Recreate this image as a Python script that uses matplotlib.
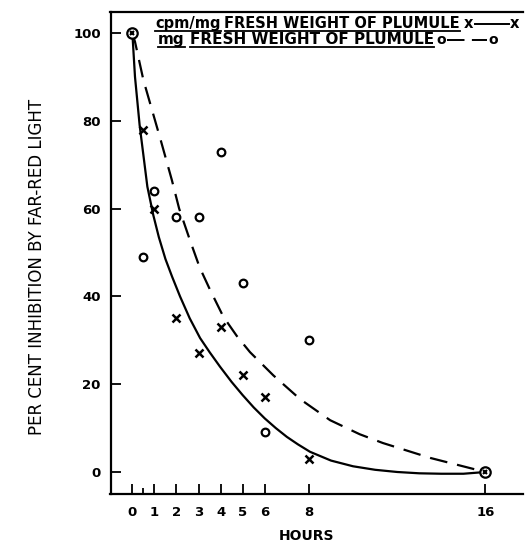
import numpy as np
import matplotlib.pyplot as plt

# measured points (hours after irradiation, % inhibition)
hours = [0.5, 1, 2, 3, 4, 5, 6, 8]
cpm_inhib = [78, 60, 35, 27, 33, 22, 17, 3]      # x markers, cpm/mg
fw_inhib = [49, 64, 58, 58, 73, 43, 9, 30]       # o markers, mg fresh weight
end_hours = [0, 16]                              # points shared by both series
end_inhib = [100, 0]

# hand drawn curves
solid_h = [0, 0.12, 0.33, 0.68, 0.95, 1.2, 1.5, 1.8, 2.16, 2.6, 3.07, 3.5, 3.97,
           4.5, 5.0, 5.5, 6.0, 6.5, 7.0, 7.5, 8.05, 9, 10, 11, 12, 13, 14, 15, 16]
solid_v = [100, 90, 79, 65, 58.5, 53.5, 48.5, 44.5, 40, 35, 30.5, 27.3, 24,
           20.5, 17.5, 14.7, 12.2, 10, 8, 6.3, 4.6, 2.6, 1.3, 0.5, 0, -0.3, -0.4, -0.4, 0]
dash_h = [0, 0.12, 0.5, 1.29, 1.79, 2.12, 2.61, 3.05, 3.52, 4.12, 4.73,
          5.33, 6.39, 7.6, 8.96, 10.3, 11.35, 13.5, 15.76, 16]
dash_v = [100, 98, 89.3, 75.5, 66.5, 60, 52.8, 46.6, 41.5, 35.4, 31,
          27.3, 22, 16.6, 11.8, 8.6, 6.6, 3.2, 0.3, 0]

x_ticks = [0, 1, 2, 3, 4, 5, 6, 8, 16]
x_labels = ['0', '1', '2', '3', '4', '5', '6', '8', '16']
y_ticks = [0, 20, 40, 60, 80, 100]

W, H = 525, 542
fig = plt.figure(figsize=(W / 100, H / 100), dpi=100)
ax = fig.add_axes([110.5 / W, 1 - 493.5 / H, (523 - 110.5) / W, (493.5 - 11.7) / H])

ax.plot(solid_h, solid_v, color='black', lw=1.6)
ax.plot(dash_h, dash_v, color='black', lw=1.6, dashes=(8, 4.5))
ax.plot(hours, cpm_inhib, ls='none', marker='x', ms=6, mew=1.8, color='black')
ax.plot(hours, fw_inhib, ls='none', marker='o', ms=5.5, mew=1.6, mfc='white', mec='black')
ax.plot(end_hours, end_inhib, ls='none', marker='o', ms=7.5, mew=1.6, mfc='white', mec='black')
ax.plot(end_hours, end_inhib, ls='none', marker='x', ms=3.2, mew=1.5, color='black')

ax.set_xlim(-0.99, 17.7)
ax.set_ylim(-4.9, 104.85)
ax.set_xticks(x_ticks)
ax.set_xticklabels(x_labels)
ax.set_xticks([0.5], minor=True)
ax.set_yticks(y_ticks)

for s in ['left', 'bottom', 'top']:
    ax.spines[s].set_linewidth(1.6)
ax.spines['right'].set_visible(False)

ax.tick_params(axis='both', which='major', direction='in', length=7, width=1.3,
               labelsize=9.5)
ax.tick_params(axis='x', which='minor', direction='in', length=4, width=1.3)
ax.tick_params(axis='y', pad=7)
ax.tick_params(axis='x', pad=9)
for lab in ax.get_xticklabels() + ax.get_yticklabels():
    lab.set_fontweight('bold')

fig.text(307 / W, 1 - 536 / H, 'HOURS', ha='center', va='center',
         fontsize=10, fontweight='bold')
fig.text(37.5 / W, 1 - 267 / H, 'PER CENT INHIBITION BY FAR-RED LIGHT',
         rotation=90, ha='center', va='center', fontsize=12)

# legend written inside the plot like the original lettering
fig.canvas.draw()
rend = fig.canvas.get_renderer()


def put(xpx, ypx, s, size, underline=False):
    t = fig.text(xpx / W, 1 - ypx / H, s, fontsize=size, fontweight='bold',
                 ha='left', va='baseline')
    bb = t.get_window_extent(rend)
    if underline:
        fig.add_artist(plt.Line2D([bb.x0 / W, bb.x1 / W],
                                  [(H - ypx - 3) / H] * 2, color='black', lw=1.3))
    return bb.x1


x = put(155, 28, 'cpm/mg', 10.5, True)
x = put(x + 4, 28, 'FRESH WEIGHT OF PLUMULE', 10.5, True)
x = put(x + 4, 28, 'x', 10.5)
fig.add_artist(plt.Line2D([(x + 1) / W, (x + 35) / W], [(H - 24) / H] * 2,
                          color='black', lw=1.4))
put(x + 36, 28, 'x', 10.5)

x = put(158, 44, 'mg', 11, True)
x = put(x + 5, 44, 'FRESH WEIGHT OF PLUMULE', 11, True)
x = put(x + 3, 44, 'o', 10)
fig.add_artist(plt.Line2D([(x + 1) / W, (x + 41) / W], [(H - 40) / H] * 2,
                          color='black', lw=1.4, dashes=(9, 3.8)))
put(x + 42, 44, 'o', 10)

fig.savefig('out.png', dpi=100)
